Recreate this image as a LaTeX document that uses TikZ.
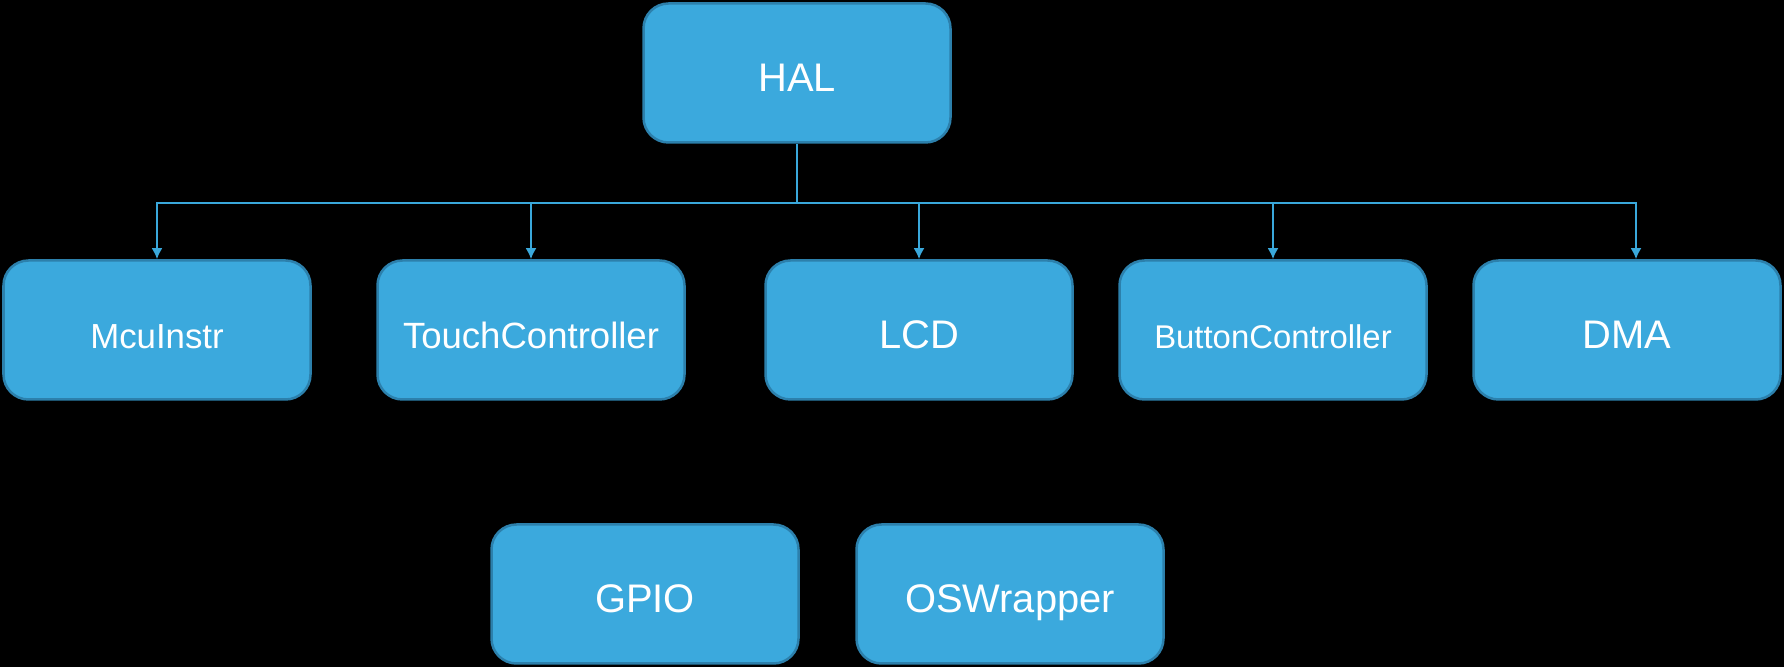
\documentclass[tikz,border=0pt]{standalone}
\usepackage{fontspec}
\setmainfont{Liberation Sans}
\usepackage{tikz}
\usetikzlibrary{arrows.meta}

\definecolor{boxfill}{HTML}{3BA9DD}
\definecolor{boxline}{HTML}{2C80AC}
\definecolor{wire}{HTML}{3AA8DB}

\begin{document}
\begin{tikzpicture}
                \tikzset{module/.style = {shape=rectangle,rounded corners=0.5cm,draw=boxline,fill=boxfill,line width=0.05cm,text=white,minimum width=6.14cm,minimum height=2.78cm,text height=0.78cm,text depth=0.04cm,font=\fontsize{22.7}{26}\selectfont}}
                \tikzset{edge/.style = {-{Latex[length=2.2mm,width=2.2mm]},draw=wire,line width=0.055cm}}
                
                \fill[black] (0,0) rectangle (35.68,13.34);
                \useasboundingbox (0,0) rectangle (35.68,13.34);
                
                \node[module] (hal) at  (15.94,11.88) {HAL};
                \node[module,font=\fontsize{19.8}{24}\selectfont] (mcu) at  (3.14,6.74) {McuInstr};
                \node[module,font=\fontsize{20.8}{24}\selectfont] (touch) at  (10.62,6.74) {TouchController};
                \node[module] (lcd) at  (18.38,6.74) {LCD};
                \node[module,font=\fontsize{18.7}{22}\selectfont] (button) at  (25.46,6.74) {ButtonController};
                \node[module] (dma) at  (32.54,6.74) {DMA};
                \node[module] (gpio) at  (12.9,1.46) {GPIO};
                \node[module] (os) at  (20.2,1.46) {OSWrapper};
                
                \coordinate (bus) at (15.94,9.28);
            
                \draw[edge] (hal.south) -- (bus) -| (mcu.north);
                \draw[edge] (bus) -| (touch.north);
                \draw[edge] (bus) -| (lcd.north);
                \draw[edge] (bus) -| (button.north);
                \draw[edge] (bus) -| ([xshift=0.18cm]dma.north);
                
        \end{tikzpicture}
\end{document}
